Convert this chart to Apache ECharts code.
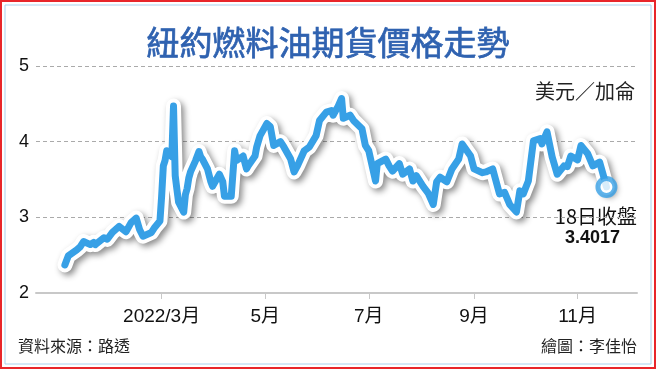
<!DOCTYPE html>
<html>
<head>
<meta charset="utf-8">
<style>
html,body{margin:0;padding:0;background:#fff;}
#c{width:656px;height:369px;}
</style>
<script src="https://cdn.jsdelivr.net/npm/echarts@6/dist/echarts.min.js"></script>
</head>
<body>
<div id="c"></div>
<script>
var dates = [
'2022-01-03','2022-01-05','2022-01-10','2022-01-12','2022-01-14','2022-01-18','2022-01-20','2022-01-21','2022-01-26','2022-01-28',
'2022-01-31','2022-02-02','2022-02-04','2022-02-08','2022-02-11','2022-02-14','2022-02-16','2022-02-18','2022-02-23','2022-02-25',
'2022-02-28','2022-03-01','2022-03-02','2022-03-03','2022-03-04','2022-03-07','2022-03-08','2022-03-09','2022-03-10','2022-03-11',
'2022-03-14','2022-03-15','2022-03-16','2022-03-17','2022-03-18','2022-03-21','2022-03-23','2022-03-24','2022-03-25','2022-03-28',
'2022-03-30','2022-03-31','2022-04-04','2022-04-06','2022-04-07','2022-04-11','2022-04-13','2022-04-14','2022-04-18','2022-04-20',
'2022-04-21','2022-04-25','2022-04-26','2022-04-28','2022-05-02','2022-05-04','2022-05-06','2022-05-10','2022-05-12','2022-05-16',
'2022-05-18','2022-05-20','2022-05-24','2022-05-27','2022-05-31','2022-06-02','2022-06-06','2022-06-09','2022-06-10','2022-06-13',
'2022-06-15','2022-06-16','2022-06-20','2022-06-22','2022-06-27','2022-06-29','2022-07-01','2022-07-05','2022-07-06','2022-07-11',
'2022-07-13','2022-07-15','2022-07-19','2022-07-21','2022-07-25','2022-07-27','2022-07-29','2022-08-02','2022-08-05','2022-08-08',
'2022-08-10','2022-08-12','2022-08-16','2022-08-19','2022-08-23','2022-08-25','2022-08-26','2022-08-30','2022-09-01','2022-09-06',
'2022-09-08','2022-09-12','2022-09-16','2022-09-19','2022-09-22','2022-09-26','2022-09-28','2022-09-30','2022-10-03','2022-10-06',
'2022-10-10','2022-10-11','2022-10-14','2022-10-17','2022-10-20','2022-10-24','2022-10-26','2022-10-28','2022-11-01','2022-11-03',
'2022-11-07','2022-11-10','2022-11-14','2022-11-16','2022-11-18'
];
var prices = [
2.37,2.49,2.57,2.61,2.68,2.64,2.67,2.64,2.73,2.71,
2.80,2.84,2.88,2.81,2.93,2.99,2.84,2.75,2.80,2.87,
2.95,3.28,3.68,3.75,3.88,3.80,4.47,3.55,3.37,3.20,
3.07,3.30,3.38,3.52,3.60,3.75,3.87,3.80,3.77,3.64,
3.47,3.41,3.57,3.47,3.28,3.28,3.88,3.75,3.81,3.64,
3.68,3.81,3.93,4.08,4.24,4.20,3.95,4.00,3.93,3.77,
3.60,3.68,3.88,3.93,4.08,4.28,4.39,4.41,4.35,4.47,
4.57,4.31,4.35,4.28,4.17,3.95,3.88,3.48,3.71,3.77,
3.68,3.61,3.71,3.57,3.64,3.48,3.55,3.41,3.32,3.17,
3.47,3.53,3.47,3.64,3.77,3.97,3.95,3.81,3.64,3.59,
3.60,3.64,3.31,3.33,3.17,3.07,3.35,3.31,3.48,4.01,
4.04,3.97,4.13,3.80,3.57,3.68,3.67,3.81,3.76,3.95,
3.84,3.68,3.73,3.57,3.4017
];
var tickDates = ['2022-03-01','2022-05-01','2022-07-01','2022-09-01','2022-11-01'];
var tickLabels = ['2022/3月','5月','7月','9月','11月'];
var yTicks = [2,3,4,5];
var titleText = '紐約燃料油期貨價格走勢';
var unitText = '美元／加侖';
var closeLabel = '18日收盤';
var closeValue = '3.4017';
var sourceText = '資料來源：路透';
var authorText = '繪圖：李佳怡';

function ts(s){ var p = s.split('-'); return Date.UTC(+p[0], +p[1]-1, +p[2]); }
var seriesData = dates.map(function(d,i){ return [ts(d), prices[i]]; });
var tickTs = tickDates.map(ts);
var lastPoint = seriesData[seriesData.length-1];

var chart = echarts.init(document.getElementById('c'), null, {renderer:'canvas'});
var sans = '"Liberation Sans","Noto Sans CJK TC",sans-serif';
var cjk = '"Noto Sans CJK TC","Liberation Sans",sans-serif';
var blue = '#37a0e6';

chart.setOption({
  animation:false,
  backgroundColor:'#fff',
  title:{text:titleText,left:'center',top:21,textStyle:{fontFamily:cjk,fontSize:33,fontWeight:'normal',color:'#2f62b0',textBorderColor:'#2f62b0',textBorderWidth:0.7}},
  grid:{left:36,right:19,top:66,bottom:76},
  xAxis:{
    type:'value',
    min:ts('2021-12-17'),
    max:ts('2022-12-06'),
    axisLine:{show:true,lineStyle:{color:'#c8c8c8',width:2}},
    axisTick:{show:true,customValues:tickTs,length:6,lineStyle:{color:'#c8c8c8',width:1}},
    axisLabel:{customValues:tickTs,margin:14,fontFamily:sans,fontSize:19,color:'#111',
      formatter:function(v){ var i = tickTs.indexOf(v); return i>=0 ? tickLabels[i] : ''; }},
    splitLine:{show:false}
  },
  yAxis:{
    type:'value',min:yTicks[0],max:yTicks[yTicks.length-1],interval:1,
    axisLine:{show:false},axisTick:{show:false},
    axisLabel:{margin:7,fontFamily:sans,fontSize:18,color:'#111'},
    splitLine:{show:true,lineStyle:{color:'#aaaaaa',type:[4,3],width:1}}
  },
  series:[
    {type:'line',data:seriesData,symbol:'none',silent:true,z:2,
     lineStyle:{color:'#ffffff',width:15,join:'round',cap:'round',shadowColor:'rgba(0,0,0,0.45)',shadowBlur:6,shadowOffsetX:3,shadowOffsetY:3}},
    {type:'line',data:seriesData,symbol:'none',silent:true,z:3,
     lineStyle:{color:blue,width:7,join:'round',cap:'round'}},
    {type:'scatter',data:[lastPoint],symbol:'circle',symbolSize:17,z:4,
     itemStyle:{color:'#ffffff',borderColor:blue,borderWidth:5}}
  ],
  graphic:[
    {type:'rect',shape:{x:1,y:1,width:654,height:367},style:{fill:'none',stroke:'#e8262b',lineWidth:2},z:100},
    {type:'rect',shape:{x:5,y:5,width:646,height:359},style:{fill:'none',stroke:'#a9d2ee',lineWidth:1},z:100},
    {type:'text',right:21,top:81,style:{text:unitText,font:'20px '+cjk,fill:'#222'}},
    {type:'text',right:19,top:206,style:{text:closeLabel,font:'20px '+cjk,fill:'#111'}},
    {type:'text',right:36,top:229,style:{text:closeValue,font:'bold 18px '+sans,fill:'#111'}},
    {type:'text',left:18,top:338,style:{text:sourceText,font:'16px '+cjk,fill:'#222'}},
    {type:'text',right:19,top:338,style:{text:authorText,font:'16px '+cjk,fill:'#222'}}
  ]
});
</script>
</body>
</html>
